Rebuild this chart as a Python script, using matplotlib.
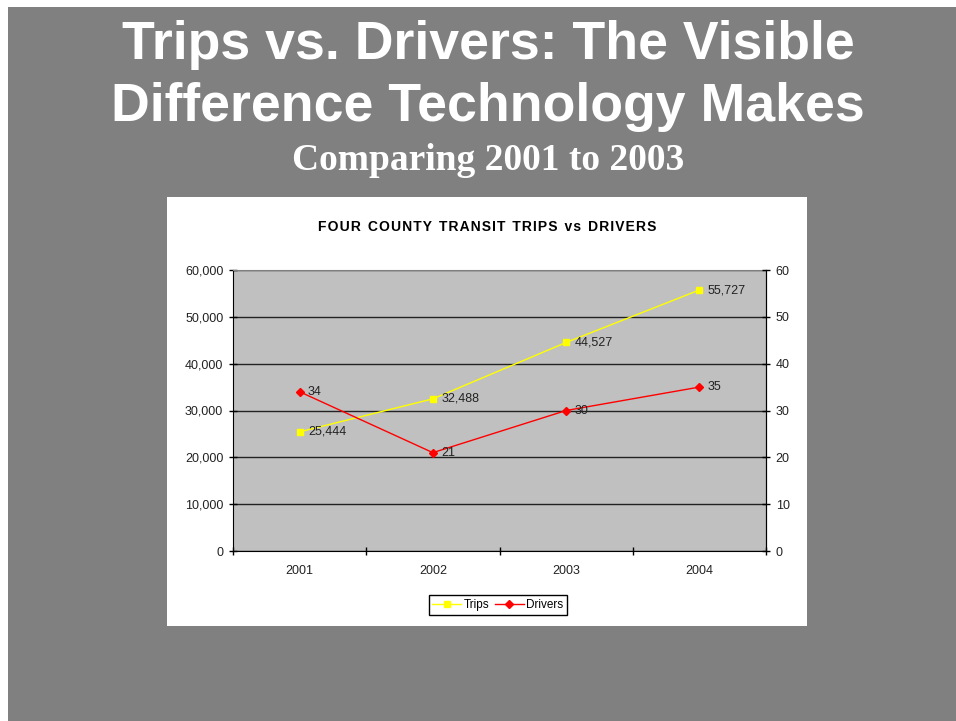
import matplotlib.pyplot as plt
from matplotlib.patches import Rectangle
from matplotlib.ticker import FuncFormatter

years = ['2001', '2002', '2003', '2004']
trips = [25444, 32488, 44527, 55727]
drivers = [34, 21, 30, 35]

fig = plt.figure(figsize=(9.56, 7.21), dpi=100)
fig.patch.set_facecolor('white')

W, H = 956, 721


def fx(px):
    return px / W


def fy(py):
    return 1 - py / H


# slide background and white chart box
fig.patches.append(Rectangle((fx(8), 0), 1 - fx(8), fy(7), transform=fig.transFigure,
                             facecolor='#808080', edgecolor='none', zorder=0))
fig.patches.append(Rectangle((fx(167), fy(626)), fx(807) - fx(167), fy(197) - fy(626),
                             transform=fig.transFigure, facecolor='white', edgecolor='none', zorder=1))

fig.text(fx(488), fy(45), 'Trips vs. Drivers: The Visible', ha='center', va='center',
         color='white', fontsize=38.6, fontweight='bold', family='Liberation Sans')
fig.text(fx(488), fy(107), 'Difference Technology Makes', ha='center', va='center',
         color='white', fontsize=38.6, fontweight='bold', family='Liberation Sans')
fig.text(fx(488), fy(161), 'Comparing 2001 to 2003', ha='center', va='center',
         color='white', fontsize=27, fontweight='bold', family='Liberation Serif')

chart_title = 'FOUR COUNTY TRANSIT TRIPS vs DRIVERS'
spaced = '\u200a'.join(chart_title).replace('\u200a \u200a', '\u2002')
fig.text(fx(487), fy(227), spaced, ha='center', va='center', color='black',
         fontsize=10, fontweight='bold', family=['Liberation Sans', 'DejaVu Sans'])

lab = dict(fontsize=9, color='#222222', family='Liberation Sans')

ax = fig.add_axes([fx(233), fy(551), fx(766) - fx(233), fy(270) - fy(551)])
ax.set_zorder(2)
ax.set_facecolor('#C0C0C0')
x = list(range(len(years)))
ax.plot(x, trips, color='#FFFF00', lw=1, marker='s', ms=5, mec='#FFFF00', mfc='#FFFF00',
        label='Trips', zorder=3)
for xi, v in zip(x, trips):
    ax.annotate(f'{v:,}', (xi, v), xytext=(6, 0), textcoords='offset points',
                va='center', ha='left', **lab)
ax.set_xlim(-0.5, 3.5)
ax.set_ylim(0, 60000)
ax.set_yticks(range(0, 60001, 10000))
ax.yaxis.set_major_formatter(FuncFormatter(lambda v, p: f'{int(v):,}'))
ax.set_xticks([-0.5, 0.5, 1.5, 2.5, 3.5])
ax.set_xticklabels([])
ax.set_xticks(x, minor=True)
ax.set_xticklabels(years, minor=True)
ax.tick_params(axis='x', which='major', direction='inout', length=6, width=1)
ax.tick_params(axis='x', which='minor', length=0, pad=10, labelsize=9, labelcolor='#222222')
ax.tick_params(axis='y', direction='inout', length=6, width=1, labelsize=9,
               labelcolor='#222222', pad=4)
ax.grid(axis='y', color='#222222', lw=1)
ax.set_axisbelow(True)
for s in ['left', 'bottom', 'right']:
    ax.spines[s].set_color('black')
ax.spines['top'].set_color('#808080')

ax2 = ax.twinx()
ax2.plot(x, drivers, color='#FF0000', lw=1, marker='D', ms=4, mec='#FF0000', mfc='#FF0000',
         label='Drivers', zorder=3)
for xi, v in zip(x, drivers):
    ax2.annotate(f'{v}', (xi, v), xytext=(6, 0), textcoords='offset points',
                 va='center', ha='left', **lab)
ax2.set_ylim(0, 60)
ax2.set_yticks(range(0, 61, 10))
ax2.tick_params(axis='y', direction='inout', length=6, width=1, labelsize=9,
                labelcolor='#222222', pad=4)
for s in ax2.spines.values():
    s.set_visible(False)
ax2.spines['right'].set_visible(True)
ax2.spines['right'].set_color('black')

for t in ax.get_yticklabels() + ax2.get_yticklabels() + ax.get_xticklabels(minor=True):
    t.set_family('Liberation Sans')

h1, l1 = ax.get_legend_handles_labels()
h2, l2 = ax2.get_legend_handles_labels()
leg = fig.legend(h1 + h2, l1 + l2, loc='center', bbox_to_anchor=(fx(498), fy(605)),
                 ncol=2, frameon=True, fancybox=False, edgecolor='black', framealpha=1,
                 prop={'family': 'Liberation Sans', 'size': 8.5}, handlelength=2.4,
                 columnspacing=0.5, handletextpad=0.25, borderpad=0.3, borderaxespad=0)
leg.get_frame().set_linewidth(1)

fig.savefig('out.png', dpi=100)
